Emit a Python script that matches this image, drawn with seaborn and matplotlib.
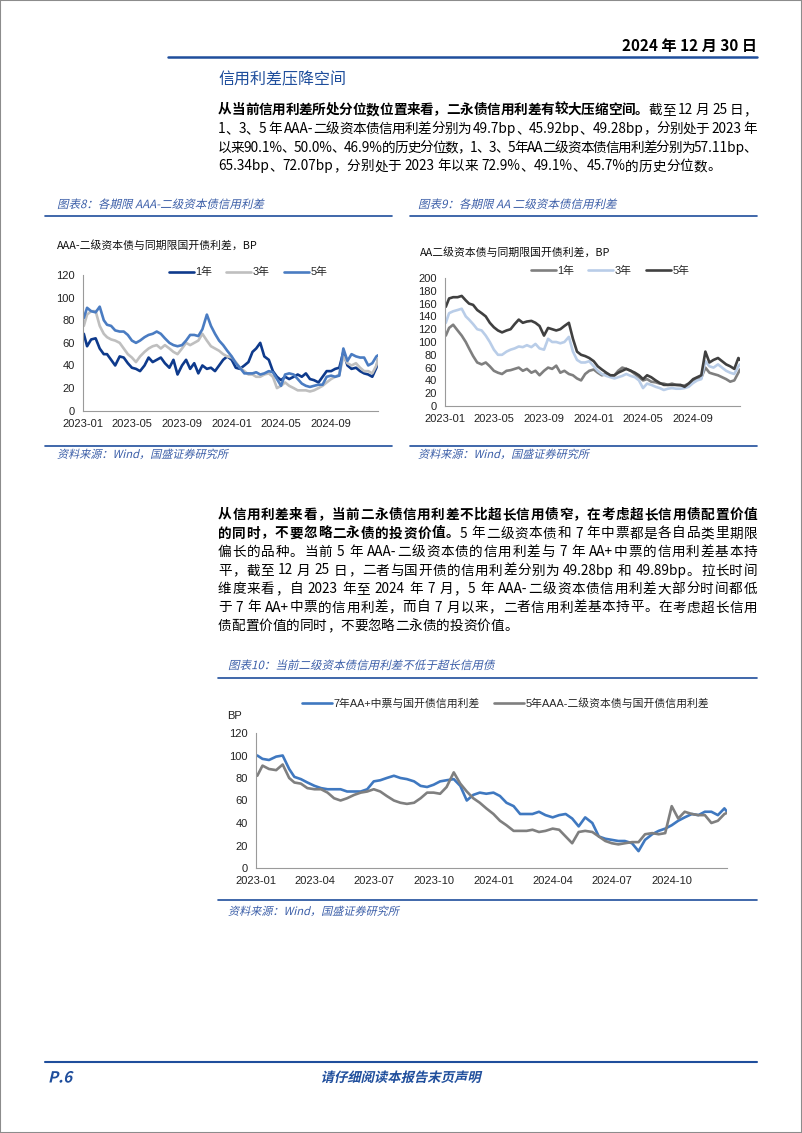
import matplotlib
matplotlib.use("Agg")
import matplotlib.pyplot as plt
import matplotlib.dates as mdates
from matplotlib.lines import Line2D
from matplotlib.patches import Rectangle, PathPatch
from matplotlib.font_manager import FontProperties
from matplotlib.textpath import TextPath
from matplotlib.transforms import Affine2D, IdentityTransform
import pandas as pd
import seaborn as sns

# sample dates: 1st / 11th / 21st of every month, last point 2024-12-25
dates = [f"{y}-{m:02d}-{d:02d}" for y in (2023, 2024) for m in range(1, 13) for d in (1, 11, 21)]
dates[0] = "2023-01-03"
dates.append("2024-12-25")

# AAA- tier 2 capital bond spreads (chart 8), BP
aaa_1y = [68, 57, 63, 64, 55, 50, 50, 45, 40, 48, 47, 42, 38, 37, 35, 40, 47, 43,
          45, 47, 42, 38, 45, 32, 40, 45, 37, 42, 33, 40, 37, 38, 35, 40, 45, 48,
          45, 38, 37, 40, 43, 52, 55, 60, 48, 45, 35, 30, 27, 30, 28, 30, 32, 30,
          33, 28, 27, 25, 30, 35, 35, 37, 38, 52, 40, 37, 38, 35, 33, 32, 30, 38, 45]
aaa_3y = [75, 85, 88, 88, 75, 68, 65, 63, 62, 60, 55, 50, 47, 43, 48, 52, 55, 57,
          58, 55, 58, 55, 52, 50, 55, 60, 58, 60, 62, 68, 62, 57, 55, 53, 50, 48,
          47, 43, 38, 35, 32, 32, 30, 30, 32, 33, 30, 20, 22, 25, 22, 20, 18, 18,
          18, 17, 18, 20, 22, 25, 28, 30, 32, 48, 42, 40, 42, 38, 35, 35, 33, 40, 46]
aaa_5y = [82, 91, 88, 87, 92, 80, 76, 75, 71, 70, 70, 67, 62, 60, 62, 65, 67, 68,
          70, 68, 64, 60, 58, 57, 58, 62, 67, 67, 66, 72, 85, 75, 68, 62, 58, 53,
          48, 42, 38, 33, 33, 33, 34, 32, 33, 35, 34, 28, 22, 32, 33, 32, 28, 24,
          22, 21, 22, 23, 23, 30, 31, 30, 31, 55, 44, 50, 48, 47, 47, 40, 42, 48, 49]

# AA tier 2 capital bond spreads (chart 9), BP
aa_1y = [110, 122, 127, 118, 110, 100, 90, 78, 68, 65, 68, 62, 55, 52, 50, 55, 56, 58,
         60, 55, 58, 52, 55, 48, 55, 60, 58, 63, 52, 55, 50, 48, 43, 40, 50, 55,
         57, 52, 48, 50, 47, 48, 55, 60, 58, 55, 50, 45, 40, 42, 38, 37, 35, 35,
         33, 35, 33, 32, 32, 35, 40, 42, 44, 60, 52, 50, 48, 45, 42, 38, 40, 52, 57]
aa_3y = [130, 145, 148, 150, 152, 140, 135, 128, 120, 118, 110, 100, 88, 80, 80, 85, 88, 90,
         93, 92, 95, 92, 97, 90, 88, 105, 100, 100, 98, 100, 108, 85, 72, 68, 68, 70,
         62, 55, 50, 47, 45, 43, 45, 47, 50, 47, 45, 40, 28, 35, 33, 30, 28, 25,
         27, 28, 27, 27, 28, 30, 36, 40, 42, 70, 62, 60, 65, 60, 55, 52, 50, 62, 65]
aa_5y = [155, 168, 170, 170, 172, 165, 160, 158, 150, 145, 140, 130, 123, 118, 115, 118, 120, 128,
         135, 130, 132, 133, 130, 125, 110, 122, 120, 118, 120, 125, 130, 105, 85, 80, 78, 75,
         70, 62, 57, 52, 48, 48, 52, 55, 58, 55, 52, 48, 42, 48, 45, 40, 36, 33,
         33, 33, 33, 33, 30, 35, 42, 45, 48, 85, 68, 72, 75, 70, 65, 62, 58, 75, 72]

# 7Y AA+ MTN spread (chart 10), BP
mtn_7y = [100, 97, 96, 99, 100, 88, 81, 79, 76, 73, 71, 70, 70, 70, 68, 68, 68, 70,
          77, 78, 80, 82, 80, 79, 77, 73, 72, 74, 77, 78, 79, 73, 60, 65, 67, 66,
          67, 64, 58, 55, 48, 48, 48, 50, 47, 45, 47, 48, 44, 37, 45, 40, 28, 26,
          25, 24, 24, 22, 15, 25, 30, 33, 35, 38, 42, 45, 48, 47, 50, 50, 47, 53, 50]

W, H = 802, 1133
BLUE = "#1F4E9C"
TBLUE = "#3B5EA8"
CJK = ["Noto Sans CJK SC", "DejaVu Sans"]

sns.set_theme(style="white")
plt.rcParams["font.family"] = ["Liberation Sans", "Noto Sans CJK SC", "DejaVu Sans"]

fig = plt.figure(figsize=(W / 100, H / 100), dpi=100)
renderer = fig.canvas.get_renderer()


def fx(x):
    return x / W


def fy(y):
    return 1 - y / H


def hline(x0, x1, y, lw=1.2, color=BLUE):
    fig.add_artist(Line2D([fx(x0), fx(x1)], [fy(y), fy(y)], transform=fig.transFigure,
                          color=color, lw=lw))


def slanted(x, y, s, size, color, weight="normal", ha="left"):
    # fake italic: text outline sheared, placed in pixel coords
    prop = FontProperties(family="Noto Sans CJK SC", weight=weight)
    tp = TextPath((0, 0), s, size=size, prop=prop)
    k = 100 / 72
    width = tp.get_extents().width * k
    x0 = x - width / 2 if ha == "center" else x
    tr = Affine2D().skew_deg(13, 0).scale(k).translate(x0, H - y - 0.36 * size * k)
    fig.add_artist(PathPatch(tr.transform_path(tp), transform=IdentityTransform(),
                             facecolor=color, edgecolor="none"))


def tokens_of(s):
    out, run = [], ""
    for ch in s:
        if ord(ch) < 128 and ch != " ":
            run += ch
        else:
            if run:
                out.append(run)
                run = ""
            out.append(ch)
    if run:
        out.append(run)
    return out


def put_line(segs, y, justify=True, x0=218, x1=757, size=9.8):
    # lay out one justified line of mixed bold / regular text
    toks = []
    for txt, bold in segs:
        prop = FontProperties(family=CJK, size=size, weight="bold" if bold else "normal")
        for t in tokens_of(txt):
            w = renderer.get_text_width_height_descent(t, prop, ismath=False)[0]
            toks.append((t, prop, w))
    total = sum(t[2] for t in toks)
    gap = (x1 - x0 - total) / (len(toks) - 1) if justify else 0
    x = x0
    for t, prop, w in toks:
        if t != " ":
            fig.text(fx(x), fy(y), t, fontproperties=prop, va="center", ha="left", color="black")
        x += w + gap


def draw_chart(ax, series, colors, labels, ymax, months, leg_xy, handlelen):
    xs = pd.to_datetime(dates)
    for vals, c, lab in zip(series, colors, labels):
        sns.lineplot(x=xs, y=vals, color=c, lw=1.9, label=lab, ax=ax)
    ax.set_xlim(pd.Timestamp("2023-01-01"), pd.Timestamp("2024-12-25"))
    ax.set_ylim(0, ymax)
    ax.set_yticks(range(0, ymax + 1, 20))
    ax.xaxis.set_major_locator(mdates.MonthLocator(bymonth=months))
    ax.xaxis.set_major_formatter(mdates.DateFormatter("%Y-%m"))
    ax.set_xlabel("")
    ax.set_ylabel("")
    for s in ("top", "right"):
        ax.spines[s].set_visible(False)
    for s in ("left", "bottom"):
        ax.spines[s].set_color("#9A9A9A")
        ax.spines[s].set_linewidth(0.8)
    ax.tick_params(axis="x", direction="in", length=3, width=0.8, color="#9A9A9A",
                   pad=6, labelsize=8, labelcolor="#222222")
    ax.tick_params(axis="y", direction="out", length=3, width=0.8, color="#9A9A9A",
                   pad=3, labelsize=8, labelcolor="#222222")
    ax.set_facecolor("white")
    ax.legend(loc="center", bbox_to_anchor=leg_xy, ncol=len(labels), frameon=False,
              fontsize=7.8, handlelength=handlelen, handletextpad=0.15,
              columnspacing=1.3, borderaxespad=0)


# ---- page header ----
fig.add_artist(Rectangle((0, 0), 1, 1, transform=fig.transFigure, fill=False,
                         edgecolor="#8C8C8C", lw=1.5))
fig.text(fx(757), fy(46), "2024 年 12 月 30 日", ha="right", va="center", fontsize=11,
         weight="bold", family=CJK, color="black")
hline(168, 757, 57, lw=1.8)
fig.text(fx(218), fy(80), "信用利差压降空间", ha="left", va="center", fontsize=11.5,
         family=CJK, color=BLUE)

p1 = [
    [("从当前信用利差所处分位数位置来看，二永债信用利差有较大压缩空间。", True), ("截至 12 月 25 日，", False)],
    [("1、3、5 年 AAA-二级资本债信用利差分别为 49.7bp、45.92bp、49.28bp，分别处于 2023 年", False)],
    [("以来90.1%、50.0%、46.9%的历史分位数，1、3、5年AA二级资本债信用利差分别为57.11bp、", False)],
    [("65.34bp、72.07bp，分别处于 2023 年以来 72.9%、49.1%、45.7%的历史分位数。", False)],
]
for i, segs in enumerate(p1):
    put_line(segs, 110 + 18.8 * i, justify=i < len(p1) - 1)

# ---- chart 8 / chart 9 ----
slanted(57, 204, "图表8：各期限 AAA-二级资本债信用利差", 8.3, TBLUE)
hline(45, 392, 216)
slanted(418, 204, "图表9：各期限 AA 二级资本债信用利差", 8.3, TBLUE)
hline(410, 757, 216)

fig.text(fx(57), fy(245), "AAA-二级资本债与同期限国开债利差，BP", fontsize=7.8, family=CJK,
         color="#111111", va="center")
fig.text(fx(420), fy(252), "AA二级资本债与同期限国开债利差，BP", fontsize=7.8, family=CJK,
         color="#111111", va="center")

ax8 = fig.add_axes([fx(83), fy(410.7), (378 - 83) / W, (410.7 - 275) / H])
draw_chart(ax8, [aaa_1y, aaa_3y, aaa_5y], ["#0E3A8C", "#BFBFBF", "#4A7CC2"],
           ["1年", "3年", "5年"], 120, [1, 5, 9], (0.56, 1.02), 2.3)

ax9 = fig.add_axes([fx(445), fy(406), (740 - 445) / W, (406 - 278) / H])
draw_chart(ax9, [aa_1y, aa_3y, aa_5y], ["#7F7F7F", "#B9CDE8", "#404040"],
           ["1年", "3年", "5年"], 200, [1, 5, 9], (0.56, 1.055), 2.3)

hline(45, 392, 446)
hline(410, 757, 446)
slanted(57, 454, "资料来源：Wind，国盛证券研究所", 8, TBLUE)
slanted(418, 454, "资料来源：Wind，国盛证券研究所", 8, TBLUE)

# ---- second paragraph ----
p2 = [
    [("从信用利差来看，当前二永债信用利差不比超长信用债窄，在考虑超长信用债配置价值", True)],
    [("的同时，不要忽略二永债的投资价值。", True), ("5 年二级资本债和 7 年中票都是各自品类里期限", False)],
    [("偏长的品种。当前 5 年 AAA-二级资本债的信用利差与 7 年 AA+中票的信用利差基本持", False)],
    [("平，截至 12 月 25 日，二者与国开债的信用利差分别为 49.28bp 和 49.89bp。拉长时间", False)],
    [("维度来看，自 2023 年至 2024 年 7 月，5 年 AAA-二级资本债信用利差大部分时间都低", False)],
    [("于 7 年 AA+中票的信用利差，而自 7 月以来，二者信用利差基本持平。在考虑超长信用", False)],
    [("债配置价值的同时，不要忽略二永债的投资价值。", False)],
]
for i, segs in enumerate(p2):
    put_line(segs, 515 + 18.5 * i, justify=i < len(p2) - 1)

# ---- chart 10 ----
slanted(228, 665, "图表10：当前二级资本债信用利差不低于超长信用债", 8.3, TBLUE)
hline(218, 757, 678)
fig.text(fx(235), fy(716), "BP", fontsize=8, ha="center", va="center", color="#222222")

ax10 = fig.add_axes([fx(256), fy(868), (727 - 256) / W, (868 - 733) / H])
draw_chart(ax10, [mtn_7y, aaa_5y], ["#3F78C0", "#7F7F7F"],
           ["7年AA+中票与国开债信用利差", "5年AAA-二级资本债与国开债信用利差"],
           120, [1, 4, 7, 10], (0.53, 1.222), 2.8)

hline(218, 757, 900)
slanted(228, 911, "资料来源：Wind，国盛证券研究所", 8, TBLUE)

# ---- footer ----
hline(45, 757, 1062, lw=1.5)
slanted(48, 1077, "P.6", 11, BLUE, weight="bold")
slanted(400, 1077, "请仔细阅读本报告末页声明", 9.6, BLUE, weight="bold", ha="center")

fig.savefig("out.png", dpi=100)
